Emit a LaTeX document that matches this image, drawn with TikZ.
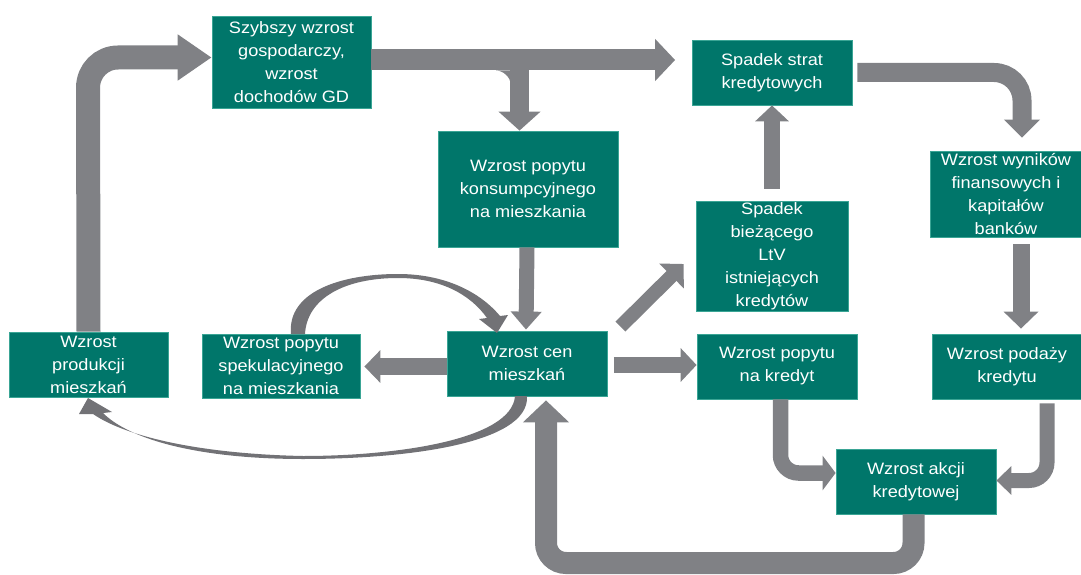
\documentclass[tikz,border=0pt]{standalone}
\usepackage{fontspec}
\setmainfont{Liberation Sans}
\newfontfamily\bxfam[FakeStretch=1.1]{Liberation Sans}
\usetikzlibrary{arrows.meta,calc}
\definecolor{tealbox}{HTML}{00766A}
\definecolor{tealedge}{HTML}{3AA595}
\definecolor{arrgray}{HTML}{808185}
\definecolor{arcgray}{HTML}{727276}
\newcommand\bxfont{\bxfam\fontsize{16.5}{23}\selectfont}
\tikzset{
  box/.style={draw=tealedge, line width=0.8pt, fill=tealbox, text=white, inner sep=0pt, align=center, font=\bxfont},
  arr/.style={draw=arrgray, line cap=butt},
}
\begin{document}
\begin{tikzpicture}[x=1pt,y=-1pt]
\useasboundingbox (0,0) rectangle (1081,575);

% boxes
\node[box, minimum width=159pt, minimum height=92pt] (szyb) at (291.5,62) {Szybszy wzrost\\gospodarczy,\\wzrost\\dochodów GD};
\node[box, minimum width=160pt, minimum height=65pt] (strat) at (772,72.5) {Spadek strat\\kredytowych};
\node[box, minimum width=180pt, minimum height=116pt] (kons) at (528,189) {Wzrost popytu\\konsumpcyjnego\\na mieszkania};
\node[box, minimum width=152pt, minimum height=110pt] (ltv) at (772,256) {Spadek\\bieżącego\\LtV\\istniejących\\kredytów};
\node[box, minimum width=152pt, minimum height=86pt] (wyn) at (1006,194) {Wzrost wyników\\finansowych i\\kapitałów\\banków};
\node[box, minimum width=159pt, minimum height=65pt] (prod) at (88.5,364.5) {Wzrost\\produkcji\\mieszkań};
\node[box, minimum width=158pt, minimum height=64pt] (spek) at (281,366) {Wzrost popytu\\spekulacyjnego\\na mieszkania};
\node[box, minimum width=160pt, minimum height=65pt] (cen) at (527,363.5) {Wzrost cen\\mieszkań};
\node[box, minimum width=160pt, minimum height=65pt] (kred) at (777,366.5) {Wzrost popytu\\na kredyt};
\node[box, minimum width=150pt, minimum height=65pt] (poda) at (1007,366.5) {Wzrost podaży\\kredytu};
\node[box, minimum width=160pt, minimum height=65pt] (akcji) at (916,481.5) {Wzrost akcji\\kredytowej};

% straight and elbow arrows, from box to box
% prod -> szyb
\draw[arr, line width=24pt, rounded corners=30pt, -{Triangle[width=44pt,length=34pt]}]
  (prod.north) -- (88,57.5) -- ([yshift=4.5pt]szyb.west);
% szyb -> strat
\draw[arr, line width=21pt, -{Triangle[width=41pt,length=20pt]}]
  ([yshift=2pt]szyb.east) -- ([xshift=-16.5pt,yshift=12.5pt]strat.west);
% branch down -> kons
\draw[arr, line width=19pt, -{Triangle[width=41pt,length=19pt]}]
  ([xshift=-8.5pt]kons.north |- szyb.east) -- ([xshift=-8.5pt]kons.north);
\fill[arrgray] (496,70.5) .. controls (503,70.5) and (510.5,77) .. (510.5,84) -- (510.5,70.5) -- cycle;
% strat -> wyn
\draw[arr, line width=19pt, rounded corners=28pt, -{Triangle[width=35pt,length=18pt]}]
  ([xshift=5pt]strat.east) -- (1022,72.5) -- ([xshift=16pt,yshift=13pt]wyn.north);
% ltv -> strat
\draw[arr, line width=16pt, -{Triangle[width=33pt,length=16pt]}]
  ([yshift=12pt]ltv.north) -- (strat.south);
% kons -> cen
\draw[arr, line width=15pt, -{Triangle[width=30pt,length=18pt]}]
  ([xshift=-1pt]kons.south) -- ([xshift=-1pt,yshift=1pt]cen.north);
% cen -> spek
\draw[arr, line width=17pt, -{Triangle[width=32pt,length=16pt]}]
  ([yshift=-3pt]cen.west) -- ([xshift=4pt,yshift=-0.5pt]spek.east);
% cen -> ltv
\draw[arr, line width=14pt, -{Triangle[width=34pt,length=17pt]}]
  ([xshift=13pt,yshift=4pt]cen.north east) -- ([xshift=-12pt,yshift=-8pt]ltv.west);
% cen -> kred
\draw[arr, line width=16pt, -{Triangle[width=33pt,length=16pt]}]
  ([xshift=6.5pt,yshift=-1.5pt]cen.east) -- ([yshift=1.5pt]kred.west);
% kred -> akcji
\draw[arr, line width=15.5pt, rounded corners=18pt, -{Triangle[width=34pt,length=13pt]}]
  ([xshift=3.5pt]kred.south) -- (780.5,473) -- ([yshift=8.5pt]akcji.west);
% poda -> akcji
\draw[arr, line width=15pt, rounded corners=18pt, -{Triangle[width=28pt,length=15pt]}]
  ([xshift=40pt,yshift=-4pt]poda.south) -- (1047,480.5) -- ([yshift=1pt]akcji.east);
% wyn -> poda
\draw[arr, line width=17pt, -{Triangle[width=34pt,length=17pt]}]
  ([xshift=15pt,yshift=-7pt]wyn.south) -- ([xshift=14pt,yshift=5pt]poda.north);
% akcji -> cen
\draw[arr, line width=22pt, rounded corners=20pt, -{Triangle[width=45pt,length=22pt]}]
  ([xshift=-2.5pt]akcji.south) -- (913.5,563) -- (546,563) -- ([xshift=19pt,yshift=-4pt]cen.south);

% curved arrow spek -> cen
\fill[arcgray] (291,334) .. controls (287,292) and (340,274) .. (398,274)
  .. controls (445,274) and (480,292) .. (500,316)
  -- (508,315) -- (497,333) -- (479,319) -- (487,318)
  .. controls (470,294) and (440,278) .. (398,278)
  .. controls (345,278) and (307,298) .. (305,334) -- cycle;
% curved arrow cen -> prod
\fill[arcgray] (527,396) .. controls (530,445) and (400,459) .. (303,459)
  .. controls (200,459) and (130,440) .. (103,413)
  -- (112,412) -- (88,398) -- (79,414) -- (93,414)
  .. controls (128,438) and (205,454) .. (303,456)
  .. controls (395,456) and (512,440) .. (515,396) -- cycle;
\end{tikzpicture}
\end{document}
